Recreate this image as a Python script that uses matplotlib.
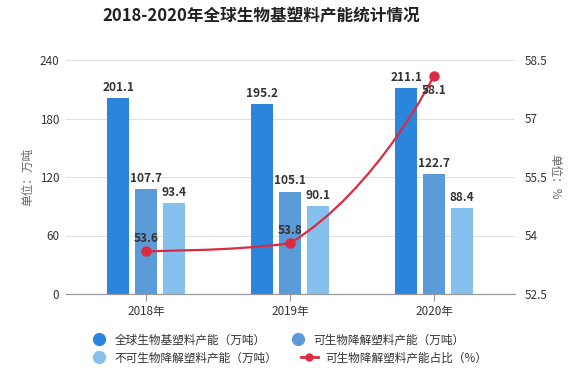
import numpy as np
import matplotlib
matplotlib.use("Agg")
import matplotlib.pyplot as plt
from matplotlib.path import Path
from matplotlib.patches import PathPatch
from matplotlib.lines import Line2D

plt.rcParams['font.family'] = ['Noto Sans CJK SC', 'DejaVu Sans']

# ---------------- data ----------------
years = ["2018年", "2019年", "2020年"]
total_cap = [201.1, 195.2, 211.1]
degradable_cap = [107.7, 105.1, 122.7]
nondegradable_cap = [93.4, 90.1, 88.4]
degradable_share = [53.6, 53.8, 58.1]

series_names = ["全球生物基塑料产能（万吨）", "可生物降解塑料产能（万吨）",
                "不可生物降解塑料产能（万吨）", "可生物降解塑料产能占比（%）"]
left_ticks = [0, 60, 120, 180, 240]
right_ticks = [52.5, 54, 55.5, 57, 58.5]
right_tick_labels = ["52.5", "54", "55.5", "57", "58.5"]

c1, c2, c3 = "#2c85dc", "#5b9bd8", "#86c0ef"
red = "#dc2a40"
txt = "#333333"

W, H = 582, 375
fig = plt.figure(figsize=(W / 100, H / 100), dpi=100)
L, R, T, B = 66, 515, 60, 294
ax = fig.add_axes([L / W, 1 - B / H, (R - L) / W, (B - T) / H])

x = np.arange(len(years))
bw = 0.153
off = 0.194
for vals, col, k in [(total_cap, c1, -1), (degradable_cap, c2, 0), (nondegradable_cap, c3, 1)]:
    bars = ax.bar(x + k * off, vals, width=bw, color=col, zorder=2)
    ax.bar_label(bars, labels=[f"{v:.1f}" for v in vals], padding=3,
                 fontsize=8.6, fontweight='bold', color=txt)

ax.set_xlim(-0.556, 2.5625)
ax.set_ylim(0, 240)
ax.set_yticks(left_ticks)
ax.set_xticks(x)
ax.set_xticklabels(years)
ax.grid(axis='y', color='#e0e0e0', lw=0.8, zorder=0)
for s in ['top', 'left', 'right']:
    ax.spines[s].set_visible(False)
ax.spines['bottom'].set_color('#999999')
ax.spines['bottom'].set_linewidth(0.9)
ax.tick_params(axis='y', length=0, pad=5, labelsize=8.4, labelcolor=txt)
ax.tick_params(axis='x', length=5, color='#999999', pad=3, labelsize=8.4, labelcolor=txt)
ax.set_ylabel("单位：万吨", fontsize=8.4, color='#666666', labelpad=4)

ax2 = ax.twinx()
ax2.set_ylim(52.5, 58.5)
ax2.set_yticks(right_ticks)
ax2.set_yticklabels(right_tick_labels)
for s in ['top', 'left', 'right', 'bottom']:
    ax2.spines[s].set_visible(False)
ax2.tick_params(axis='y', length=0, pad=7, labelsize=8.4, labelcolor=txt)
ax2.set_ylabel("单位：%", fontsize=8.4, color='#666666', rotation=-90, labelpad=10)

# ---- echarts-like smooth line (bezier with clamped control points) ----
sx = ax.bbox.width / (ax.get_xlim()[1] - ax.get_xlim()[0])
sy = ax2.bbox.height / (ax2.get_ylim()[1] - ax2.get_ylim()[0])
P = np.column_stack([x * sx, np.array(degradable_share) * sy])
n = len(P)
smooth = 0.5
cp_in = [None] * n
cp_out = [None] * n
cp_out[0] = P[0].copy()
cp_in[n - 1] = P[n - 1].copy()
for i in range(1, n - 1):
    prev, p, nxt = P[i - 1], P[i], P[i + 1]
    v = nxt - prev
    lp = np.hypot(*(p - prev))
    ln = np.hypot(*(nxt - p))
    r = ln / (ln + lp)
    c0 = p + v * smooth * r
    c0 = np.minimum(c0, np.maximum(nxt, p))
    c0 = np.maximum(c0, np.minimum(nxt, p))
    c1p = p - v * smooth * (1 - r)
    c1p = np.minimum(c1p, np.maximum(prev, p))
    c1p = np.maximum(c1p, np.minimum(prev, p))
    cp_in[i] = c1p
    cp_out[i] = c0
verts = [P[0]]
codes = [Path.MOVETO]
for i in range(n - 1):
    verts += [cp_out[i], cp_in[i + 1], P[i + 1]]
    codes += [Path.CURVE4] * 3
verts = np.array(verts) / np.array([sx, sy])
ax2.add_patch(PathPatch(Path(verts, codes), fill=False, edgecolor=red, lw=1.6, zorder=3))
ax2.plot(x, degradable_share, linestyle='none', marker='o', markersize=6.5,
         color=red, zorder=4)
for i, v in enumerate(degradable_share):
    if i == n - 1:
        ax2.annotate(f"{v:.1f}", (x[i], v), xytext=(0, -11), textcoords='offset points',
                     ha='center', va='center', fontsize=8.6, fontweight='bold', color=txt, zorder=5)
    else:
        ax2.annotate(f"{v:.1f}", (x[i], v), xytext=(0, 9), textcoords='offset points',
                     ha='center', va='center', fontsize=8.6, fontweight='bold', color=txt, zorder=5)

fig.text(261 / W, 1 - 16 / H, "2018-2020年全球生物基塑料产能统计情况", ha='center', va='center',
         fontsize=12, fontweight='bold', color='#222222')

# ---- legend ----
def circ(c):
    return Line2D([], [], marker='o', linestyle='none', markersize=8.5, color=c)
lh = Line2D([], [], color=red, lw=2, marker='o', markersize=5)
kw = dict(loc='center left', frameon=False, fontsize=8.4, borderpad=0, borderaxespad=0,
          handlelength=1.5, handletextpad=0.6, columnspacing=2.0, ncol=2, labelcolor=txt)
leg1 = fig.legend([circ(c1), circ(c2)], series_names[:2],
                  bbox_to_anchor=(90 / W, 1 - 340 / H), **kw)
leg2 = fig.legend([circ(c3), lh], series_names[2:],
                  bbox_to_anchor=(90 / W, 1 - 358 / H), **kw)

fig.savefig("out.png", dpi=100)
